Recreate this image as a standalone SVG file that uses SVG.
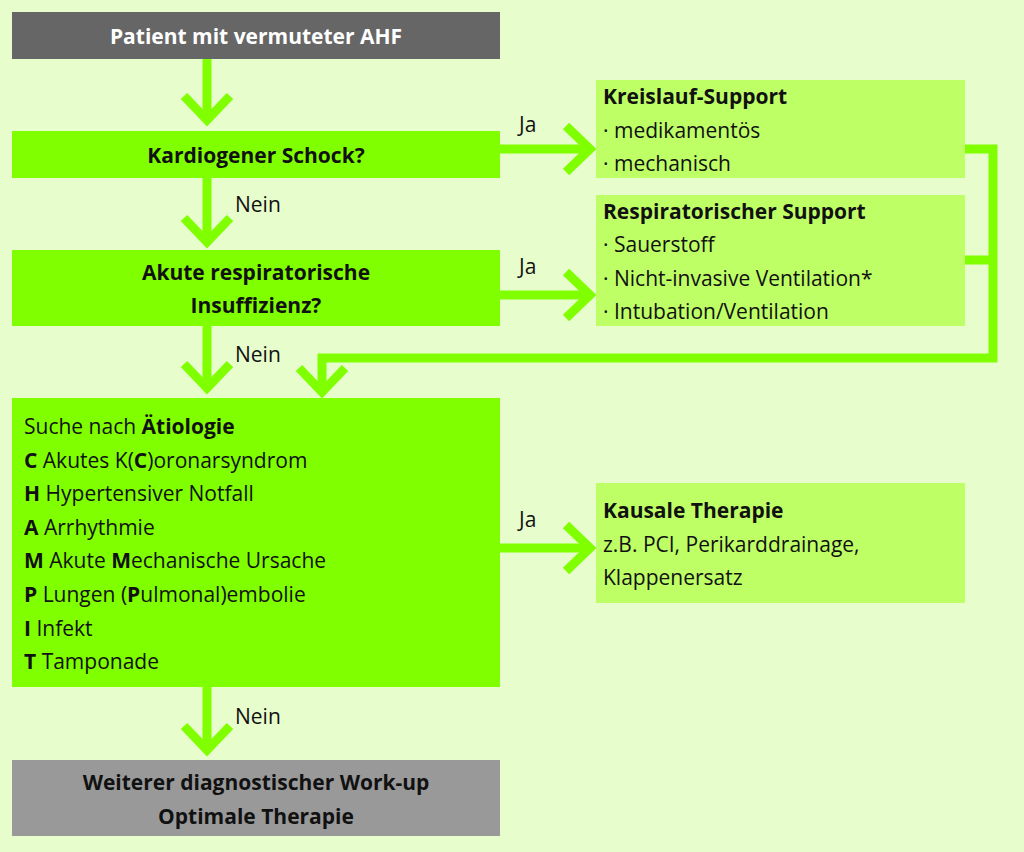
<svg xmlns="http://www.w3.org/2000/svg" width="1024" height="852" viewBox="0 0 1024 852">
<style>
text{font-family:"Open Sans","DejaVu Sans",sans-serif;font-size:21px;fill:#111}
.b{font-weight:bold}
.w{fill:#fff}
.c{text-anchor:middle}
.line{fill:none;stroke:#80ff00;stroke-width:9}
.head{fill:none;stroke:#80ff00;stroke-width:9;stroke-linecap:butt}
.main{fill:#80ff00}
.side{fill:#bfff66}
</style>
<rect width="1024" height="852" fill="#e8fdcc"/>
<g id="connectors">
<path class="line" d="M207 59V120M207 178V240M207 326V388M207 687V750"/>
<path class="head" d="M184 96L207 120L230 96M184 218L207 242L230 218M184 364L207 388L230 364M184 726L207 750L230 726"/>
<path class="line" d="M500 149H588M500 295H588M500 548H588"/>
<path class="head" d="M566 126L590 149L566 172M566 272L590 295L566 318M566 525L590 548L566 571"/>
<path class="line" d="M965 149H993V358H322V392M965 260H993"/>
<path class="head" d="M299 368L322 392L345 368"/>
<text x="519" y="132">Ja</text>
<text x="519" y="274">Ja</text>
<text x="519" y="527">Ja</text>
<text x="235" y="212">Nein</text>
<text x="235" y="362">Nein</text>
<text x="235" y="724">Nein</text>
</g>
<g id="start"><rect x="12" y="12" width="488" height="47" fill="#666"/><text class="b w c" x="256" y="44">Patient mit vermuteter AHF</text></g>
<g id="schock"><rect class="main" x="12" y="131" width="488" height="47"/><text class="b c" x="256" y="163">Kardiogener Schock?</text></g>
<g id="resp"><rect class="main" x="12" y="250" width="488" height="76"/><text class="b c" x="256" y="280">Akute respiratorische</text><text class="b c" x="256" y="313">Insuffizienz?</text></g>
<g id="aetiologie"><rect class="main" x="12" y="398" width="488" height="289"/>
<text x="24" y="434">Suche nach <tspan class="b">Ätiologie</tspan></text>
<text x="24" y="468"><tspan class="b">C</tspan> Akutes K(<tspan class="b">C</tspan>)oronarsyndrom</text>
<text x="24" y="501"><tspan class="b">H</tspan> Hypertensiver Notfall</text>
<text x="24" y="535"><tspan class="b">A</tspan> Arrhythmie</text>
<text x="24" y="568"><tspan class="b">M</tspan> Akute <tspan class="b">M</tspan>echanische Ursache</text>
<text x="24" y="602"><tspan class="b">P</tspan> Lungen (<tspan class="b">P</tspan>ulmonal)embolie</text>
<text x="24" y="636"><tspan class="b">I</tspan> Infekt</text>
<text x="24" y="669"><tspan class="b">T</tspan> Tamponade</text>
</g>
<g id="ende"><rect x="12" y="760" width="488" height="76" fill="#999"/><text class="b c" x="256" y="790">Weiterer diagnostischer Work-up</text><text class="b c" x="256" y="824">Optimale Therapie</text></g>
<g id="kreislauf"><rect class="side" x="596" y="80" width="369" height="98"/>
<text class="b" x="603" y="104">Kreislauf-Support</text>
<text x="603" y="138">· medikamentös</text>
<text x="603" y="171">· mechanisch</text></g>
<g id="respsupport"><rect class="side" x="596" y="195" width="369" height="131"/>
<text class="b" x="603" y="219">Respiratorischer Support</text>
<text x="603" y="252">· Sauerstoff</text>
<text x="603" y="286">· Nicht-invasive Ventilation*</text>
<text x="603" y="319">· Intubation/Ventilation</text></g>
<g id="kausal"><rect class="side" x="596" y="483" width="369" height="120"/>
<text class="b" x="603" y="518">Kausale Therapie</text>
<text x="603" y="552">z.B. PCI, Perikarddrainage,</text>
<text x="603" y="585">Klappenersatz</text></g>
</svg>
